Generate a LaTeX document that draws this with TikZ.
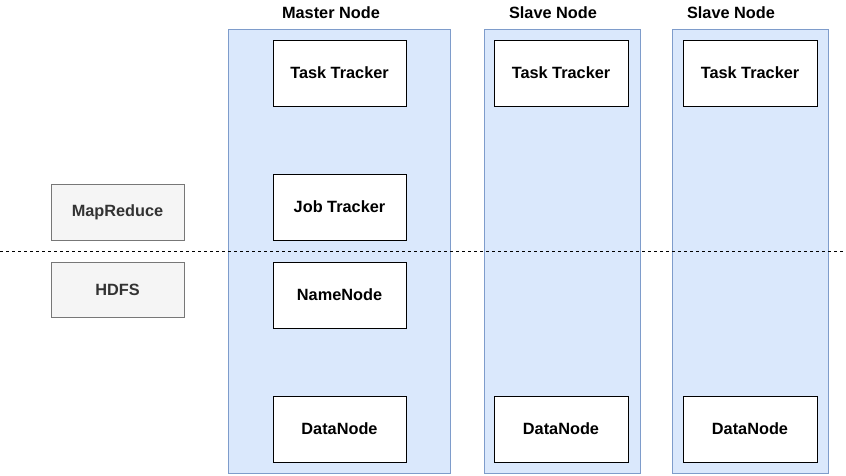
\documentclass[tikz,border=0pt]{standalone}
\usepackage{fontspec}
\setmainfont{Liberation Sans}
\definecolor{colfill}{HTML}{DAE8FC}
\definecolor{colline}{HTML}{7E9CCB}
\definecolor{grayfill}{HTML}{F5F5F5}
\definecolor{grayline}{HTML}{777777}
\definecolor{graytext}{HTML}{333333}
\begin{document}
\begin{tikzpicture}[x=1pt,y=-1pt,
  column/.style={draw=colline,fill=colfill,line width=0.9pt},
  unit/.style={draw=black,fill=white,line width=0.9pt,font=\bfseries\fontsize{16.3}{18}\selectfont},
  layer/.style={draw=grayline,fill=grayfill,line width=0.9pt,text=graytext,font=\bfseries\fontsize{16.3}{18}\selectfont},
  title/.style={font=\bfseries\fontsize{16.3}{18}\selectfont}]
\useasboundingbox (0,0) rectangle (846,476);
% machine columns
\draw[column] (228,29) rectangle (450,473);
\draw[column] (484,29) rectangle (640,473);
\draw[column] (672,29) rectangle (828,473);
\node[title] (tmaster) at (331,13) {Master Node};
\node[title] (tslave1) at (553,13) {Slave Node};
\node[title] (tslave2) at (731,13) {Slave Node};
% layer labels
\node[layer,minimum width=133pt,minimum height=56pt] (mapreduce) at (117.5,212) {MapReduce};
\node[layer,minimum width=133pt,minimum height=55pt] (hdfs) at (117.5,289.5) {HDFS};
% separator between MapReduce and HDFS
\draw[dashed,line width=0.9pt,dash pattern=on 3pt off 3pt] (0,251) -- (846,251);
% master daemons
\node[unit,minimum width=133pt,minimum height=66pt] (tt0) at (339.5,73) {Task Tracker};
\node[unit,minimum width=133pt,minimum height=66pt] (jt) at (339.5,207) {Job Tracker};
\node[unit,minimum width=133pt,minimum height=66pt] (nn) at (339.5,295) {NameNode};
\node[unit,minimum width=133pt,minimum height=66pt] (dn0) at (339.5,429) {DataNode};
% slave daemons
\node[unit,minimum width=134pt,minimum height=66pt] (tt1) at (561,73) {Task Tracker};
\node[unit,minimum width=134pt,minimum height=66pt] (dn1) at (561,429) {DataNode};
\node[unit,minimum width=134pt,minimum height=66pt] (tt2) at (750,73) {Task Tracker};
\node[unit,minimum width=134pt,minimum height=66pt] (dn2) at (750,429) {DataNode};
\end{tikzpicture}
\end{document}
